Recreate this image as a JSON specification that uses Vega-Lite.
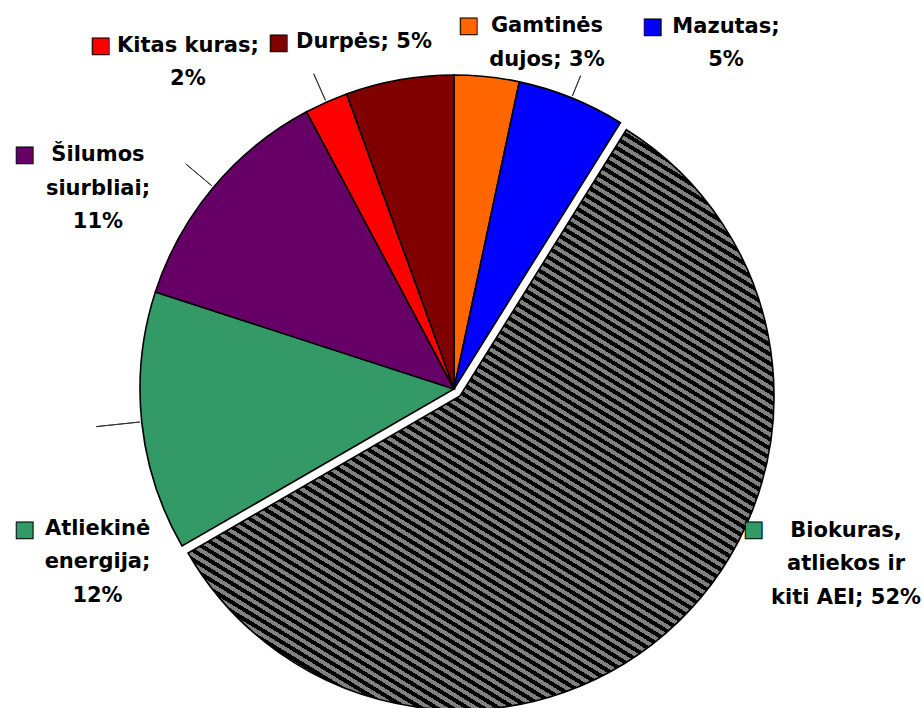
{
"$schema": "https://vega.github.io/schema/vega-lite/v6.json",
"width": 908,
"height": 638,
"autosize": {"type": "none"},
"padding": {"left": 0, "top": 70, "right": 16, "bottom": 0},
"background": "white",
"config": {"view": {"stroke": null}},
"data": {"values": [
{"fuel": "Gamtinės dujos", "value": 3, "ord": 1, "label": "Gamtinės\ndujos; 3%"},
{"fuel": "Mazutas", "value": 5, "ord": 2, "label": "Mazutas;\n5%"},
{"fuel": "Biokuras, atliekos ir kiti AEI", "value": 52, "ord": 3, "label": "Biokuras,\natliekos ir\nkiti AEI; 52%"},
{"fuel": "Atliekinė energija", "value": 12, "ord": 4, "label": "Atliekinė\nenergija;\n12%"},
{"fuel": "Šilumos siurbliai", "value": 11, "ord": 5, "label": "Šilumos\nsiurbliai;\n11%"},
{"fuel": "Kitas kuras", "value": 2, "ord": 6, "label": "Kitas kuras;\n2%"},
{"fuel": "Durpės", "value": 5, "ord": 7, "label": "Durpės; 5%"}
]},
"layer": [
{
"mark": {"type": "arc", "radius": 314, "stroke": "#000", "strokeWidth": 1.6},
"encoding": {
"theta": {"field": "value", "type": "quantitative", "stack": true, "scale": {"nice": false, "zero": true}},
"order": {"field": "ord", "type": "quantitative"},
"color": {"field": "fuel", "type": "nominal", "legend": null,
"scale": {"domain": ["Gamtinės dujos", "Mazutas", "Biokuras, atliekos ir kiti AEI", "Atliekinė energija", "Šilumos siurbliai", "Kitas kuras", "Durpės"],
"range": ["#FF6600", "#0000FF", "#339966", "#339966", "#660066", "#FF0000", "#800000"]}},
"opacity": {"condition": {"test": "datum.ord == 3", "value": 0}, "value": 1}
}
},
{
"mark": {"type": "arc", "radius": 314, "stroke": "#000", "strokeWidth": 1.6, "xOffset": 6, "yOffset": 7,
"fill": {"gradient": "linear", "x1": 0, "y1": 1, "x2": 0.906, "y2": -0.475, "stops": [
{"offset":0,"color":"#000"},
{"offset":0.004,"color":"#000"},{"offset":0.004,"color":"gray"},{"offset":0.008,"color":"gray"},{"offset":0.008,"color":"#000"},
{"offset":0.012,"color":"#000"},{"offset":0.012,"color":"gray"},{"offset":0.016,"color":"gray"},{"offset":0.016,"color":"#000"},
{"offset":0.02,"color":"#000"},{"offset":0.02,"color":"gray"},{"offset":0.024,"color":"gray"},{"offset":0.024,"color":"#000"},
{"offset":0.028,"color":"#000"},{"offset":0.028,"color":"gray"},{"offset":0.032,"color":"gray"},{"offset":0.032,"color":"#000"},
{"offset":0.036,"color":"#000"},{"offset":0.036,"color":"gray"},{"offset":0.04,"color":"gray"},{"offset":0.04,"color":"#000"},
{"offset":0.044,"color":"#000"},{"offset":0.044,"color":"gray"},{"offset":0.048,"color":"gray"},{"offset":0.048,"color":"#000"},
{"offset":0.052,"color":"#000"},{"offset":0.052,"color":"gray"},{"offset":0.056,"color":"gray"},{"offset":0.056,"color":"#000"},
{"offset":0.06,"color":"#000"},{"offset":0.06,"color":"gray"},{"offset":0.064,"color":"gray"},{"offset":0.064,"color":"#000"},
{"offset":0.068,"color":"#000"},{"offset":0.068,"color":"gray"},{"offset":0.072,"color":"gray"},{"offset":0.072,"color":"#000"},
{"offset":0.076,"color":"#000"},{"offset":0.076,"color":"gray"},{"offset":0.08,"color":"gray"},{"offset":0.08,"color":"#000"},
{"offset":0.084,"color":"#000"},{"offset":0.084,"color":"gray"},{"offset":0.088,"color":"gray"},{"offset":0.088,"color":"#000"},
{"offset":0.092,"color":"#000"},{"offset":0.092,"color":"gray"},{"offset":0.096,"color":"gray"},{"offset":0.096,"color":"#000"},
{"offset":0.1,"color":"#000"},{"offset":0.1,"color":"gray"},{"offset":0.104,"color":"gray"},{"offset":0.104,"color":"#000"},
{"offset":0.108,"color":"#000"},{"offset":0.108,"color":"gray"},{"offset":0.112,"color":"gray"},{"offset":0.112,"color":"#000"},
{"offset":0.116,"color":"#000"},{"offset":0.116,"color":"gray"},{"offset":0.12,"color":"gray"},{"offset":0.12,"color":"#000"},
{"offset":0.124,"color":"#000"},{"offset":0.124,"color":"gray"},{"offset":0.128,"color":"gray"},{"offset":0.128,"color":"#000"},
{"offset":0.132,"color":"#000"},{"offset":0.132,"color":"gray"},{"offset":0.136,"color":"gray"},{"offset":0.136,"color":"#000"},
{"offset":0.14,"color":"#000"},{"offset":0.14,"color":"gray"},{"offset":0.144,"color":"gray"},{"offset":0.144,"color":"#000"},
{"offset":0.148,"color":"#000"},{"offset":0.148,"color":"gray"},{"offset":0.152,"color":"gray"},{"offset":0.152,"color":"#000"},
{"offset":0.156,"color":"#000"},{"offset":0.156,"color":"gray"},{"offset":0.16,"color":"gray"},{"offset":0.16,"color":"#000"},
{"offset":0.164,"color":"#000"},{"offset":0.164,"color":"gray"},{"offset":0.168,"color":"gray"},{"offset":0.168,"color":"#000"},
{"offset":0.172,"color":"#000"},{"offset":0.172,"color":"gray"},{"offset":0.176,"color":"gray"},{"offset":0.176,"color":"#000"},
{"offset":0.18,"color":"#000"},{"offset":0.18,"color":"gray"},{"offset":0.184,"color":"gray"},{"offset":0.184,"color":"#000"},
{"offset":0.188,"color":"#000"},{"offset":0.188,"color":"gray"},{"offset":0.192,"color":"gray"},{"offset":0.192,"color":"#000"},
{"offset":0.196,"color":"#000"},{"offset":0.196,"color":"gray"},{"offset":0.2,"color":"gray"},{"offset":0.2,"color":"#000"},
{"offset":0.204,"color":"#000"},{"offset":0.204,"color":"gray"},{"offset":0.208,"color":"gray"},{"offset":0.208,"color":"#000"},
{"offset":0.212,"color":"#000"},{"offset":0.212,"color":"gray"},{"offset":0.216,"color":"gray"},{"offset":0.216,"color":"#000"},
{"offset":0.22,"color":"#000"},{"offset":0.22,"color":"gray"},{"offset":0.224,"color":"gray"},{"offset":0.224,"color":"#000"},
{"offset":0.228,"color":"#000"},{"offset":0.228,"color":"gray"},{"offset":0.232,"color":"gray"},{"offset":0.232,"color":"#000"},
{"offset":0.236,"color":"#000"},{"offset":0.236,"color":"gray"},{"offset":0.24,"color":"gray"},{"offset":0.24,"color":"#000"},
{"offset":0.244,"color":"#000"},{"offset":0.244,"color":"gray"},{"offset":0.248,"color":"gray"},{"offset":0.248,"color":"#000"},
{"offset":0.252,"color":"#000"},{"offset":0.252,"color":"gray"},{"offset":0.256,"color":"gray"},{"offset":0.256,"color":"#000"},
{"offset":0.26,"color":"#000"},{"offset":0.26,"color":"gray"},{"offset":0.264,"color":"gray"},{"offset":0.264,"color":"#000"},
{"offset":0.268,"color":"#000"},{"offset":0.268,"color":"gray"},{"offset":0.272,"color":"gray"},{"offset":0.272,"color":"#000"},
{"offset":0.276,"color":"#000"},{"offset":0.276,"color":"gray"},{"offset":0.28,"color":"gray"},{"offset":0.28,"color":"#000"},
{"offset":0.284,"color":"#000"},{"offset":0.284,"color":"gray"},{"offset":0.288,"color":"gray"},{"offset":0.288,"color":"#000"},
{"offset":0.292,"color":"#000"},{"offset":0.292,"color":"gray"},{"offset":0.296,"color":"gray"},{"offset":0.296,"color":"#000"},
{"offset":0.3,"color":"#000"},{"offset":0.3,"color":"gray"},{"offset":0.304,"color":"gray"},{"offset":0.304,"color":"#000"},
{"offset":0.308,"color":"#000"},{"offset":0.308,"color":"gray"},{"offset":0.312,"color":"gray"},{"offset":0.312,"color":"#000"},
{"offset":0.316,"color":"#000"},{"offset":0.316,"color":"gray"},{"offset":0.32,"color":"gray"},{"offset":0.32,"color":"#000"},
{"offset":0.324,"color":"#000"},{"offset":0.324,"color":"gray"},{"offset":0.328,"color":"gray"},{"offset":0.328,"color":"#000"},
{"offset":0.332,"color":"#000"},{"offset":0.332,"color":"gray"},{"offset":0.336,"color":"gray"},{"offset":0.336,"color":"#000"},
{"offset":0.34,"color":"#000"},{"offset":0.34,"color":"gray"},{"offset":0.344,"color":"gray"},{"offset":0.344,"color":"#000"},
{"offset":0.348,"color":"#000"},{"offset":0.348,"color":"gray"},{"offset":0.352,"color":"gray"},{"offset":0.352,"color":"#000"},
{"offset":0.356,"color":"#000"},{"offset":0.356,"color":"gray"},{"offset":0.36,"color":"gray"},{"offset":0.36,"color":"#000"},
{"offset":0.364,"color":"#000"},{"offset":0.364,"color":"gray"},{"offset":0.368,"color":"gray"},{"offset":0.368,"color":"#000"},
{"offset":0.372,"color":"#000"},{"offset":0.372,"color":"gray"},{"offset":0.376,"color":"gray"},{"offset":0.376,"color":"#000"},
{"offset":0.38,"color":"#000"},{"offset":0.38,"color":"gray"},{"offset":0.384,"color":"gray"},{"offset":0.384,"color":"#000"},
{"offset":0.388,"color":"#000"},{"offset":0.388,"color":"gray"},{"offset":0.392,"color":"gray"},{"offset":0.392,"color":"#000"},
{"offset":0.396,"color":"#000"},{"offset":0.396,"color":"gray"},{"offset":0.4,"color":"gray"},{"offset":0.4,"color":"#000"},
{"offset":0.404,"color":"#000"},{"offset":0.404,"color":"gray"},{"offset":0.408,"color":"gray"},{"offset":0.408,"color":"#000"},
{"offset":0.412,"color":"#000"},{"offset":0.412,"color":"gray"},{"offset":0.416,"color":"gray"},{"offset":0.416,"color":"#000"},
{"offset":0.42,"color":"#000"},{"offset":0.42,"color":"gray"},{"offset":0.424,"color":"gray"},{"offset":0.424,"color":"#000"},
{"offset":0.428,"color":"#000"},{"offset":0.428,"color":"gray"},{"offset":0.432,"color":"gray"},{"offset":0.432,"color":"#000"},
{"offset":0.436,"color":"#000"},{"offset":0.436,"color":"gray"},{"offset":0.44,"color":"gray"},{"offset":0.44,"color":"#000"},
{"offset":0.444,"color":"#000"},{"offset":0.444,"color":"gray"},{"offset":0.448,"color":"gray"},{"offset":0.448,"color":"#000"},
{"offset":0.452,"color":"#000"},{"offset":0.452,"color":"gray"},{"offset":0.456,"color":"gray"},{"offset":0.456,"color":"#000"},
{"offset":0.46,"color":"#000"},{"offset":0.46,"color":"gray"},{"offset":0.464,"color":"gray"},{"offset":0.464,"color":"#000"},
{"offset":0.468,"color":"#000"},{"offset":0.468,"color":"gray"},{"offset":0.472,"color":"gray"},{"offset":0.472,"color":"#000"},
{"offset":0.476,"color":"#000"},{"offset":0.476,"color":"gray"},{"offset":0.48,"color":"gray"},{"offset":0.48,"color":"#000"},
{"offset":0.484,"color":"#000"},{"offset":0.484,"color":"gray"},{"offset":0.488,"color":"gray"},{"offset":0.488,"color":"#000"},
{"offset":0.492,"color":"#000"},{"offset":0.492,"color":"gray"},{"offset":0.496,"color":"gray"},{"offset":0.496,"color":"#000"},
{"offset":0.5,"color":"#000"},{"offset":0.5,"color":"gray"},{"offset":0.504,"color":"gray"},{"offset":0.504,"color":"#000"},
{"offset":0.508,"color":"#000"},{"offset":0.508,"color":"gray"},{"offset":0.512,"color":"gray"},{"offset":0.512,"color":"#000"},
{"offset":0.516,"color":"#000"},{"offset":0.516,"color":"gray"},{"offset":0.52,"color":"gray"},{"offset":0.52,"color":"#000"},
{"offset":0.524,"color":"#000"},{"offset":0.524,"color":"gray"},{"offset":0.528,"color":"gray"},{"offset":0.528,"color":"#000"},
{"offset":0.532,"color":"#000"},{"offset":0.532,"color":"gray"},{"offset":0.536,"color":"gray"},{"offset":0.536,"color":"#000"},
{"offset":0.54,"color":"#000"},{"offset":0.54,"color":"gray"},{"offset":0.544,"color":"gray"},{"offset":0.544,"color":"#000"},
{"offset":0.548,"color":"#000"},{"offset":0.548,"color":"gray"},{"offset":0.552,"color":"gray"},{"offset":0.552,"color":"#000"},
{"offset":0.556,"color":"#000"},{"offset":0.556,"color":"gray"},{"offset":0.56,"color":"gray"},{"offset":0.56,"color":"#000"},
{"offset":0.564,"color":"#000"},{"offset":0.564,"color":"gray"},{"offset":0.568,"color":"gray"},{"offset":0.568,"color":"#000"},
{"offset":0.572,"color":"#000"},{"offset":0.572,"color":"gray"},{"offset":0.576,"color":"gray"},{"offset":0.576,"color":"#000"},
{"offset":0.58,"color":"#000"},{"offset":0.58,"color":"gray"},{"offset":0.584,"color":"gray"},{"offset":0.584,"color":"#000"},
{"offset":0.588,"color":"#000"},{"offset":0.588,"color":"gray"},{"offset":0.592,"color":"gray"},{"offset":0.592,"color":"#000"},
{"offset":0.596,"color":"#000"},{"offset":0.596,"color":"gray"},{"offset":0.6,"color":"gray"},{"offset":0.6,"color":"#000"},
{"offset":0.604,"color":"#000"},{"offset":0.604,"color":"gray"},{"offset":0.608,"color":"gray"},{"offset":0.608,"color":"#000"},
{"offset":0.612,"color":"#000"},{"offset":0.612,"color":"gray"},{"offset":0.616,"color":"gray"},{"offset":0.616,"color":"#000"},
{"offset":0.62,"color":"#000"},{"offset":0.62,"color":"gray"},{"offset":0.624,"color":"gray"},{"offset":0.624,"color":"#000"},
{"offset":0.628,"color":"#000"},{"offset":0.628,"color":"gray"},{"offset":0.632,"color":"gray"},{"offset":0.632,"color":"#000"},
{"offset":0.636,"color":"#000"},{"offset":0.636,"color":"gray"},{"offset":0.64,"color":"gray"},{"offset":0.64,"color":"#000"},
{"offset":0.644,"color":"#000"},{"offset":0.644,"color":"gray"},{"offset":0.648,"color":"gray"},{"offset":0.648,"color":"#000"},
{"offset":0.652,"color":"#000"},{"offset":0.652,"color":"gray"},{"offset":0.656,"color":"gray"},{"offset":0.656,"color":"#000"},
{"offset":0.66,"color":"#000"},{"offset":0.66,"color":"gray"},{"offset":0.664,"color":"gray"},{"offset":0.664,"color":"#000"},
{"offset":0.668,"color":"#000"},{"offset":0.668,"color":"gray"},{"offset":0.672,"color":"gray"},{"offset":0.672,"color":"#000"},
{"offset":0.676,"color":"#000"},{"offset":0.676,"color":"gray"},{"offset":0.68,"color":"gray"},{"offset":0.68,"color":"#000"},
{"offset":0.684,"color":"#000"},{"offset":0.684,"color":"gray"},{"offset":0.688,"color":"gray"},{"offset":0.688,"color":"#000"},
{"offset":0.692,"color":"#000"},{"offset":0.692,"color":"gray"},{"offset":0.696,"color":"gray"},{"offset":0.696,"color":"#000"},
{"offset":0.7,"color":"#000"},{"offset":0.7,"color":"gray"},{"offset":0.704,"color":"gray"},{"offset":0.704,"color":"#000"},
{"offset":0.708,"color":"#000"},{"offset":0.708,"color":"gray"},{"offset":0.712,"color":"gray"},{"offset":0.712,"color":"#000"},
{"offset":0.716,"color":"#000"},{"offset":0.716,"color":"gray"},{"offset":0.72,"color":"gray"},{"offset":0.72,"color":"#000"},
{"offset":0.724,"color":"#000"},{"offset":0.724,"color":"gray"},{"offset":0.728,"color":"gray"},{"offset":0.728,"color":"#000"},
{"offset":0.732,"color":"#000"},{"offset":0.732,"color":"gray"},{"offset":0.736,"color":"gray"},{"offset":0.736,"color":"#000"},
{"offset":0.74,"color":"#000"},{"offset":0.74,"color":"gray"},{"offset":0.744,"color":"gray"},{"offset":0.744,"color":"#000"},
{"offset":0.748,"color":"#000"},{"offset":0.748,"color":"gray"},{"offset":0.752,"color":"gray"},{"offset":0.752,"color":"#000"},
{"offset":0.756,"color":"#000"},{"offset":0.756,"color":"gray"},{"offset":0.76,"color":"gray"},{"offset":0.76,"color":"#000"},
{"offset":0.764,"color":"#000"},{"offset":0.764,"color":"gray"},{"offset":0.768,"color":"gray"},{"offset":0.768,"color":"#000"},
{"offset":0.772,"color":"#000"},{"offset":0.772,"color":"gray"},{"offset":0.776,"color":"gray"},{"offset":0.776,"color":"#000"},
{"offset":0.78,"color":"#000"},{"offset":0.78,"color":"gray"},{"offset":0.784,"color":"gray"},{"offset":0.784,"color":"#000"},
{"offset":0.788,"color":"#000"},{"offset":0.788,"color":"gray"},{"offset":0.792,"color":"gray"},{"offset":0.792,"color":"#000"},
{"offset":0.796,"color":"#000"},{"offset":0.796,"color":"gray"},{"offset":0.8,"color":"gray"},{"offset":0.8,"color":"#000"},
{"offset":0.804,"color":"#000"},{"offset":0.804,"color":"gray"},{"offset":0.808,"color":"gray"},{"offset":0.808,"color":"#000"},
{"offset":0.812,"color":"#000"},{"offset":0.812,"color":"gray"},{"offset":0.816,"color":"gray"},{"offset":0.816,"color":"#000"},
{"offset":0.82,"color":"#000"},{"offset":0.82,"color":"gray"},{"offset":0.824,"color":"gray"},{"offset":0.824,"color":"#000"},
{"offset":0.828,"color":"#000"},{"offset":0.828,"color":"gray"},{"offset":0.832,"color":"gray"},{"offset":0.832,"color":"#000"},
{"offset":0.836,"color":"#000"},{"offset":0.836,"color":"gray"},{"offset":0.84,"color":"gray"},{"offset":0.84,"color":"#000"},
{"offset":0.844,"color":"#000"},{"offset":0.844,"color":"gray"},{"offset":0.848,"color":"gray"},{"offset":0.848,"color":"#000"},
{"offset":0.852,"color":"#000"},{"offset":0.852,"color":"gray"},{"offset":0.856,"color":"gray"},{"offset":0.856,"color":"#000"},
{"offset":0.86,"color":"#000"},{"offset":0.86,"color":"gray"},{"offset":0.864,"color":"gray"},{"offset":0.864,"color":"#000"},
{"offset":0.868,"color":"#000"},{"offset":0.868,"color":"gray"},{"offset":0.872,"color":"gray"},{"offset":0.872,"color":"#000"},
{"offset":0.876,"color":"#000"},{"offset":0.876,"color":"gray"},{"offset":0.88,"color":"gray"},{"offset":0.88,"color":"#000"},
{"offset":0.884,"color":"#000"},{"offset":0.884,"color":"gray"},{"offset":0.888,"color":"gray"},{"offset":0.888,"color":"#000"},
{"offset":0.892,"color":"#000"},{"offset":0.892,"color":"gray"},{"offset":0.896,"color":"gray"},{"offset":0.896,"color":"#000"},
{"offset":0.9,"color":"#000"},{"offset":0.9,"color":"gray"},{"offset":0.904,"color":"gray"},{"offset":0.904,"color":"#000"},
{"offset":0.908,"color":"#000"},{"offset":0.908,"color":"gray"},{"offset":0.912,"color":"gray"},{"offset":0.912,"color":"#000"},
{"offset":0.916,"color":"#000"},{"offset":0.916,"color":"gray"},{"offset":0.92,"color":"gray"},{"offset":0.92,"color":"#000"},
{"offset":0.924,"color":"#000"},{"offset":0.924,"color":"gray"},{"offset":0.928,"color":"gray"},{"offset":0.928,"color":"#000"},
{"offset":0.932,"color":"#000"},{"offset":0.932,"color":"gray"},{"offset":0.936,"color":"gray"},{"offset":0.936,"color":"#000"},
{"offset":0.94,"color":"#000"},{"offset":0.94,"color":"gray"},{"offset":0.944,"color":"gray"},{"offset":0.944,"color":"#000"},
{"offset":0.948,"color":"#000"},{"offset":0.948,"color":"gray"},{"offset":0.952,"color":"gray"},{"offset":0.952,"color":"#000"},
{"offset":0.956,"color":"#000"},{"offset":0.956,"color":"gray"},{"offset":0.96,"color":"gray"},{"offset":0.96,"color":"#000"},
{"offset":0.964,"color":"#000"},{"offset":0.964,"color":"gray"},{"offset":0.968,"color":"gray"},{"offset":0.968,"color":"#000"},
{"offset":0.972,"color":"#000"},{"offset":0.972,"color":"gray"},{"offset":0.976,"color":"gray"},{"offset":0.976,"color":"#000"},
{"offset":0.98,"color":"#000"},{"offset":0.98,"color":"gray"},{"offset":0.984,"color":"gray"},{"offset":0.984,"color":"#000"},
{"offset":0.988,"color":"#000"},{"offset":0.988,"color":"gray"},{"offset":0.992,"color":"gray"},{"offset":0.992,"color":"#000"},
{"offset":0.996,"color":"#000"},{"offset":0.996,"color":"gray"},{"offset":1,"color":"gray"}
]}},
"encoding": {
"theta": {"field": "value", "type": "quantitative", "stack": true},
"order": {"field": "ord", "type": "quantitative"},
"detail": {"field": "fuel", "type": "nominal"},
"opacity": {"condition": {"test": "datum.ord == 3", "value": 1}, "value": 0}
}
},
{
"mark": {"type": "arc", "radius": {"expr": "datum.ord == 2 ? 338 : datum.ord == 6 ? 345 : datum.ord == 5 ? 350 : 360"}, "radius2": 316, "padAngle": 1.5, "fill": null, "stroke": "#333333", "strokeWidth": 1},
"encoding": {
"theta": {"field": "value", "type": "quantitative", "stack": true},
"order": {"field": "ord", "type": "quantitative"},
"detail": {"field": "fuel", "type": "nominal"},
"opacity": {"condition": {"test": "datum.ord == 2 || datum.ord == 4 || datum.ord == 5 || datum.ord == 6", "value": 1}, "value": 0}
}
},
{
"mark": {"type": "text", "text": "■", "radius": 350, "align": "right", "baseline": "alphabetic", "font": "DejaVu Sans", "fontSize": 22, "stroke": "#000", "strokeWidth": 1,
"dx": {"expr": "datum.ord == 1 ? -11.6 : datum.ord == 2 ? 77.9 : datum.ord == 3 ? 66.9 : datum.ord == 4 ? -70.9 : datum.ord == 5 ? -150.9 : datum.ord == 6 ? -200.7 : -104.2"},
"dy": {"expr": "datum.ord == 1 ? -8.9 : datum.ord == 2 ? -31.5 : datum.ord == 3 ? -104.8 : datum.ord == 4 ? 110.4 : datum.ord == 5 ? -3 : datum.ord == 6 ? -17.3 : 4.7"}},
"encoding": {
"theta": {"field": "value", "type": "quantitative", "stack": true},
"order": {"field": "ord", "type": "quantitative"},
"color": {"field": "fuel", "type": "nominal", "legend": null}
}
},
{
"mark": {"type": "text", "radius": 350, "align": "center", "baseline": "top", "font": "DejaVu Sans", "fontWeight": "bold", "fontSize": 21, "lineHeight": 33.5, "lineBreak": "\n", "color": "#000",
"dx": {"expr": "datum.ord == 1 ? 56.4 : datum.ord == 2 ? 140.9 : datum.ord == 3 ? 148.9 : datum.ord == 4 ? -8.4 : datum.ord == 5 ? -87.9 : datum.ord == 6 ? -123.7 : -29.2"},
"dy": {"expr": "datum.ord == 1 ? -25.9 : datum.ord == 2 ? -48.5 : datum.ord == 3 ? -120.8 : datum.ord == 4 ? 92.4 : datum.ord == 5 ? -20 : datum.ord == 6 ? -34.3 : -13.3"}},
"encoding": {
"theta": {"field": "value", "type": "quantitative", "stack": true},
"order": {"field": "ord", "type": "quantitative"},
"detail": {"field": "fuel", "type": "nominal"},
"text": {"field": "label", "type": "nominal"}
}
}
]
}
